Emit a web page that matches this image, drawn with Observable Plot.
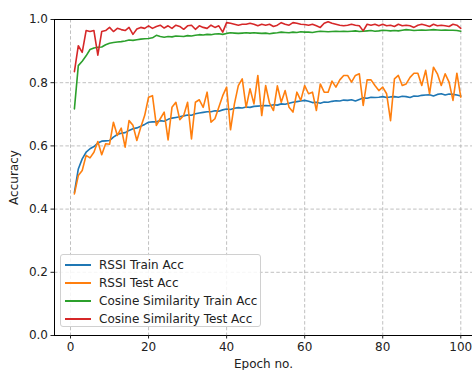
<!DOCTYPE html>
<html>
<head>
<meta charset="utf-8">
<script src="https://cdn.jsdelivr.net/npm/d3@7"></script>
<script src="https://cdn.jsdelivr.net/npm/@observablehq/plot@0.6"></script>
<style>
  html, body { margin: 0; padding: 0; background: #fff; overflow: hidden; }
  #wrap { position: relative; width: 472px; height: 370px; font-family: "DejaVu Sans", sans-serif; }
  #legend { position: absolute; left: 60px; top: 254px; width: 201px; height: 73px; box-sizing: border-box;
    border: 1px solid #d0d0d0; border-radius: 3px; background: rgba(255,255,255,0.85); padding: 1px 0 0 4px; }
  .row { display: flex; align-items: center; height: 18px; font-size: 12px; color: #222; white-space: nowrap; }
  .sw { display: block; width: 26px; height: 1.7px; margin-right: 8px; flex: none; }
</style>
</head>
<body>
<div id="wrap"></div>
<script>
const epochs = [1,2,3,4,5,6,7,8,9,10,11,12,13,14,15,16,17,18,19,20,21,22,23,24,25,26,27,28,29,30,31,32,33,34,35,36,37,38,39,40,41,42,43,44,45,46,47,48,49,50,51,52,53,54,55,56,57,58,59,60,61,62,63,64,65,66,67,68,69,70,71,72,73,74,75,76,77,78,79,80,81,82,83,84,85,86,87,88,89,90,91,92,93,94,95,96,97,98,99,100];

const rssiTrain = [0.453,0.527,0.559,0.580,0.591,0.598,0.609,0.615,0.616,0.617,0.628,0.636,0.640,0.642,0.649,0.654,0.657,0.662,0.668,0.675,
0.676,0.676,0.680,0.678,0.684,0.688,0.690,0.692,0.695,0.698,0.697,0.702,0.704,0.706,0.708,0.708,0.711,0.710,0.714,0.717,
0.715,0.719,0.721,0.720,0.723,0.722,0.725,0.726,0.727,0.728,0.727,0.730,0.729,0.733,0.732,0.735,0.738,0.740,0.742,0.744,
0.741,0.737,0.738,0.735,0.739,0.738,0.741,0.743,0.742,0.745,0.744,0.746,0.742,0.747,0.752,0.751,0.754,0.753,0.754,0.756,
0.753,0.755,0.756,0.754,0.757,0.756,0.753,0.758,0.757,0.760,0.761,0.762,0.758,0.763,0.765,0.761,0.764,0.763,0.761,0.758];

const rssiTest = [0.448,0.506,0.522,0.570,0.562,0.580,0.614,0.572,0.607,0.605,0.675,0.633,0.656,0.596,0.680,0.665,0.617,0.659,0.696,0.754,
0.759,0.665,0.686,0.707,0.619,0.722,0.738,0.683,0.696,0.738,0.622,0.738,0.746,0.722,0.770,0.675,0.686,0.722,0.759,0.786,
0.651,0.733,0.791,0.812,0.722,0.781,0.733,0.823,0.696,0.791,0.735,0.712,0.790,0.738,0.775,0.722,0.707,0.770,0.744,0.791,
0.765,0.770,0.712,0.796,0.770,0.770,0.805,0.786,0.809,0.823,0.823,0.802,0.823,0.828,0.728,0.809,0.809,0.791,0.775,0.786,
0.765,0.680,0.812,0.823,0.791,0.796,0.817,0.830,0.830,0.791,0.839,0.765,0.849,0.828,0.791,0.828,0.802,0.744,0.830,0.754];

const cosTrain = [0.717,0.854,0.868,0.885,0.905,0.910,0.912,0.913,0.920,0.925,0.927,0.929,0.930,0.932,0.935,0.934,0.936,0.938,0.939,0.940,
0.942,0.950,0.946,0.944,0.946,0.945,0.948,0.947,0.946,0.949,0.948,0.950,0.952,0.951,0.953,0.952,0.954,0.955,0.953,0.956,
0.958,0.957,0.956,0.957,0.958,0.957,0.958,0.957,0.956,0.957,0.955,0.957,0.958,0.960,0.959,0.958,0.960,0.959,0.961,0.960,
0.960,0.959,0.961,0.963,0.962,0.961,0.962,0.963,0.962,0.963,0.962,0.963,0.964,0.962,0.963,0.964,0.965,0.963,0.964,0.966,
0.965,0.964,0.965,0.964,0.966,0.968,0.967,0.965,0.966,0.967,0.966,0.967,0.968,0.967,0.966,0.967,0.966,0.966,0.965,0.963];

const cosTest = [0.835,0.917,0.896,0.965,0.962,0.965,0.887,0.962,0.965,0.975,0.962,0.972,0.968,0.965,0.975,0.953,0.970,0.975,0.972,0.980,
0.972,0.978,0.982,0.973,0.980,0.972,0.982,0.978,0.969,0.980,0.982,0.969,0.980,0.975,0.972,0.982,0.975,0.980,0.960,0.990,
0.988,0.985,0.982,0.985,0.985,0.988,0.985,0.980,0.985,0.982,0.985,0.978,0.982,0.990,0.985,0.982,0.990,0.988,0.985,0.984,
0.982,0.985,0.980,0.975,0.988,0.993,0.988,0.985,0.982,0.980,0.982,0.985,0.982,0.980,0.964,0.985,0.982,0.985,0.980,0.985,
0.980,0.982,0.978,0.985,0.980,0.982,0.980,0.975,0.982,0.985,0.982,0.978,0.985,0.980,0.982,0.980,0.978,0.985,0.982,0.972];

const seriesNames = ["RSSI Train Acc", "RSSI Test Acc", "Cosine Similarity Train Acc", "Cosine Similarity Test Acc"];
const seriesColors = ["#1f77b4", "#ff7f0e", "#2ca02c", "#d62728"];
const seriesValues = [rssiTrain, rssiTest, cosTrain, cosTest];
const xTicks = [0, 20, 40, 60, 80, 100];
const yTicks = [0.0, 0.2, 0.4, 0.6, 0.8, 1.0];
const xDomain = [-4.1, 103.0];
const yDomain = [0, 1];

const rows = [];
seriesValues.forEach((vals, i) => {
  vals.forEach((v, j) => rows.push({series: seriesNames[i], epoch: epochs[j], acc: v}));
});

const gridStyle = {stroke: "#b0b0b0", strokeOpacity: 1, strokeWidth: 0.8, strokeDasharray: "3.5,2.2"};

const chart = Plot.plot({
  width: 472,
  height: 370,
  marginLeft: 54,
  marginRight: 0,
  marginTop: 19,
  marginBottom: 35,
  style: {fontFamily: "DejaVu Sans, sans-serif", fontSize: "12px", color: "#222", background: "#fff", overflow: "hidden"},
  x: {domain: xDomain},
  y: {domain: yDomain},
  color: {domain: seriesNames, range: seriesColors},
  marks: [
    Plot.gridX(xTicks, gridStyle),
    Plot.gridY(yTicks.filter(t => t > 0 && t < 1), gridStyle),
    Plot.line(rows, {x: "epoch", y: "acc", z: "series", stroke: "series", strokeWidth: 1.6, curve: "linear"}),
    Plot.ruleY(yDomain, {stroke: "#000", strokeWidth: 1}),
    Plot.ruleX([xDomain[0]], {stroke: "#000", strokeWidth: 1}),
    Plot.axisX(xTicks, {tickSize: 3.5, tickPadding: 3, fontSize: 12, label: "Epoch no.", labelAnchor: "center", labelOffset: 32, labelArrow: "none"}),
    Plot.axisY(yTicks, {tickSize: 3.5, tickPadding: 3, fontSize: 12, tickFormat: d3.format(".1f"), label: "Accuracy", labelAnchor: "center", labelOffset: 45, labelArrow: "none"})
  ]
});

const wrap = document.getElementById("wrap");
wrap.appendChild(chart);

const legend = document.createElement("div");
legend.id = "legend";
seriesNames.forEach((name, i) => {
  const row = document.createElement("div");
  row.className = "row";
  const sw = document.createElement("span");
  sw.className = "sw";
  sw.style.background = seriesColors[i];
  const label = document.createElement("span");
  label.textContent = name;
  row.appendChild(sw);
  row.appendChild(label);
  legend.appendChild(row);
});
wrap.appendChild(legend);
</script>
</body>
</html>
